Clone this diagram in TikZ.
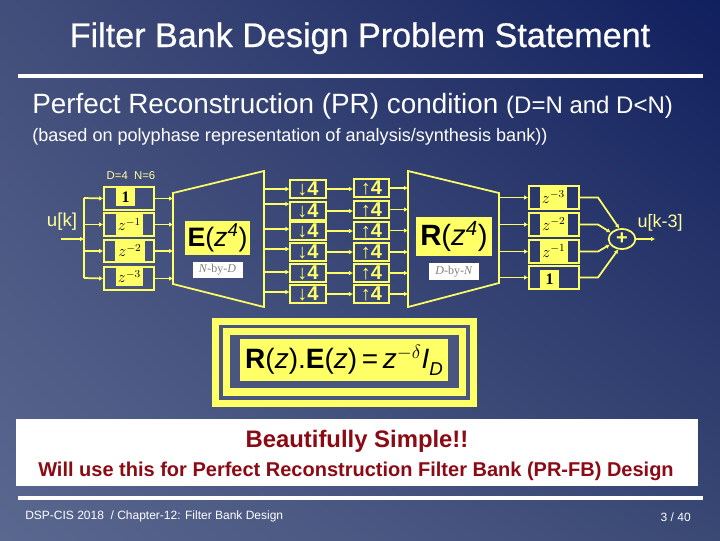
\documentclass[tikz,border=0pt]{standalone}
\usepackage{amsmath}
\usepackage{fontspec}
\setmainfont{Liberation Sans}
\newfontfamily\labelserif{Liberation Serif}
\newfontfamily\titlefont[FakeBold=0.6]{Liberation Sans}
\usepackage{xcolor}
\usetikzlibrary{positioning,arrows.meta,shapes.geometric,calc,shadings}
\definecolor{slideyellow}{HTML}{FFFF66}
\definecolor{paleyellow}{HTML}{FFFF99}
\definecolor{slidered}{HTML}{8B0A14}
\definecolor{ringgap}{HTML}{4A5680}
\definecolor{bglowleft}{HTML}{5A6890}
\definecolor{bgupleft}{HTML}{424E7A}
\definecolor{bglowright}{HTML}{3A4874}
\definecolor{bgupright}{HTML}{101F5E}

\begin{document}
\begin{tikzpicture}[
    x=0.75pt, y=-0.75pt,
    wire/.style={draw=slideyellow, line width=1.3pt},
    arrow/.style={wire, -{Latex[length=3pt,width=3.5pt]}},
    delaybox/.style={rectangle, draw=slideyellow, line width=1.3pt, minimum width=37.5pt, minimum height=17pt, inner sep=0pt},
    delayfill/.style={rectangle, fill=slideyellow, inner sep=0pt, minimum height=15pt, font=\labelserif\fontsize{12}{12}\selectfont},
    ratebox/.style={rectangle, draw=slideyellow, line width=1.3pt, minimum width=26.5pt, minimum height=13pt, inner sep=0pt, text=slideyellow, font=\bfseries\fontsize{15}{15}\selectfont},
    matbox/.style={rectangle, fill=slideyellow, inner sep=0pt, text=black, font=\fontsize{20}{20}\selectfont},
    sizebox/.style={rectangle, fill=white, inner sep=0pt, text=gray, font=\labelserif\fontsize{9}{9}\selectfont},
    heading/.style={anchor=base west, text=white, inner sep=0pt}
]

% Background
\useasboundingbox (0,0) rectangle (720,540);
\shade[lower left=bglowleft, upper left=bgupleft, lower right=bglowright, upper right=bgupright, shading=bilinear interpolation] (0,0) rectangle (720,540);

% Title
\node[text=white, anchor=base, inner sep=0pt, font=\titlefont\fontsize{25.6}{25.6}\selectfont] (title) at (360,47) {Filter Bank Design Problem Statement};
\fill[white] (18,74) rectangle (703,78);

% Headings
\node[heading, font=\fontsize{20.9}{20.9}\selectfont] (cond) at (32,113) {Perfect Reconstruction (PR) condition {\fontsize{18}{18}\selectfont (D=N and D<N)}};
\node[heading, font=\fontsize{13.55}{13.55}\selectfont] (based) at (32,141) {(based on polyphase representation of analysis/synthesis bank))};

% Labels of the analysis side
\node[text=paleyellow, font=\fontsize{8.5}{8.5}\selectfont] (sizes) at (131,176) {D=4\ \ N=6};
\node[text=paleyellow, font=\fontsize{14}{14}\selectfont] (input) at (62,222) {u[k]};

% Input delays
\node[delayfill, minimum width=14pt, minimum height=13pt] (af1) at (125.5,197) {\textbf{1}};
\node[delayfill, minimum width=20pt, minimum height=16pt] (af2) at (129.5,224.5) {$z^{-1}$};
\node[delayfill, minimum width=22pt, minimum height=16pt] (af3) at (130,250.5) {$z^{-2}$};
\node[delayfill, minimum width=20pt, minimum height=14.5pt] (af4) at (129.5,276.5) {$z^{-3}$};
\node[delaybox] (ad1) at (129,198.5) {};
\node[delaybox] (ad2) at (129,224.5) {};
\node[delaybox] (ad3) at (129,251) {};
\node[delaybox] (ad4) at (129,278.5) {};

% Input bus
\coordinate (instart) at (61,239);
\coordinate (bustop) at (84,198);
\coordinate (busbot) at (84,278);
\draw[wire] (bustop) -- (busbot);
\draw[arrow] (instart) -- (instart -| bustop);
\draw[arrow] (bustop) -- (ad1.west);
\draw[arrow] (ad2.west -| bustop) -- (ad2.west);
\draw[arrow] (ad3.west -| bustop) -- (ad3.west);
\draw[arrow] (busbot) -- (ad4.west);

% E block
\coordinate (etl) at (173,193);
\coordinate (etr) at (264,171);
\coordinate (ebr) at (264,307);
\coordinate (ebl) at (173,284);
\draw[wire, line join=miter] (etl) -- (etr) -- (ebr) -- (ebl) -- cycle;
\draw[arrow] (ad1.east) -- (ad1.east -| etl);
\draw[arrow] (ad2.east) -- (ad2.east -| etl);
\draw[arrow] (ad3.east) -- (ad3.east -| etl);
\draw[arrow] (ad4.east) -- (ad4.east -| etl);
\node[matbox, minimum width=49pt, minimum height=25.5pt] (emat) at (217.5,238) {\textbf{E}(\textit{z}$^{\text{\itshape 4}}$)};
\node[sizebox, minimum width=37.5pt, minimum height=12.5pt, below=4.5pt of emat] (esize) {\textit{N}-by-\textit{D}};

% Down-samplers
\node[ratebox] (dn1) at (308,189) {↓4};
\node[ratebox] (dn2) at (308,211) {↓4};
\node[ratebox] (dn3) at (308,231) {↓4};
\node[ratebox] (dn4) at (308,252) {↓4};
\node[ratebox] (dn5) at (308,273) {↓4};
\node[ratebox] (dn6) at (308,294) {↓4};
\coordinate (eo1) at (264,189);
\coordinate (eo2) at (264,204);
\coordinate (eo3) at (264,229);
\coordinate (eo4) at (264,249);
\coordinate (eo5) at (264,272);
\coordinate (eo6) at (264,292);
\draw[arrow] (eo1) -- (eo1 -| dn1.west);
\draw[arrow] (eo2) -- (eo2 -| dn2.west);
\draw[arrow] (eo3) -- (eo3 -| dn3.west);
\draw[arrow] (eo4) -- (eo4 -| dn4.west);
\draw[arrow] (eo5) -- (eo5 -| dn5.west);
\draw[arrow] (eo6) -- (eo6 -| dn6.west);

% Up-samplers
\node[ratebox] (up1) at (371.5,188) {↑4};
\node[ratebox] (up2) at (371.5,209.5) {↑4};
\node[ratebox] (up3) at (371.5,230.5) {↑4};
\node[ratebox] (up4) at (371.5,252) {↑4};
\node[ratebox] (up5) at (371.5,273) {↑4};
\node[ratebox] (up6) at (371.5,294) {↑4};
\draw[arrow] (dn1.east) -- (dn1.east -| up1.west);
\draw[arrow] (dn2.east) -- (dn2.east -| up2.west);
\draw[arrow] (dn3.east) -- (dn3.east -| up3.west);
\draw[arrow] (dn4.east) -- (dn4.east -| up4.west);
\draw[arrow] (dn5.east) -- (dn5.east -| up5.west);
\draw[arrow] (dn6.east) -- (dn6.east -| up6.west);

% R block
\coordinate (rtl) at (408,171);
\coordinate (rtr) at (499,193);
\coordinate (rbr) at (499,283);
\coordinate (rbl) at (408,307);
\draw[wire, line join=miter] (rtl) -- (rtr) -- (rbr) -- (rbl) -- cycle;
\draw[arrow] (up1.east) -- (up1.east -| rtl);
\draw[arrow] (up2.east) -- (up2.east -| rtl);
\draw[arrow] (up3.east) -- (up3.east -| rtl);
\draw[arrow] (up4.east) -- (up4.east -| rtl);
\draw[arrow] (up5.east) -- (up5.east -| rtl);
\draw[arrow] (up6.east) -- (up6.east -| rtl);
\node[matbox, minimum width=57pt, minimum height=29pt, font=\fontsize{22}{22}\selectfont] (rmat) at (454,236.5) {\textbf{R}(\textit{z}$^{\text{\itshape 4}}$)};
\node[sizebox, minimum width=38pt, minimum height=13pt, below=5pt of rmat] (rsize) {\textit{D}-by-\textit{N}};

% Output delays
\node[delayfill, minimum width=20pt, minimum height=16pt] (sf1) at (553.5,197) {$z^{-3}$};
\node[delayfill, minimum width=21pt, minimum height=16pt] (sf2) at (554,224) {$z^{-2}$};
\node[delayfill, minimum width=21pt, minimum height=16pt] (sf3) at (554,251) {$z^{-1}$};
\node[delayfill, minimum width=14pt, minimum height=14pt] (sf4) at (549.5,279) {\textbf{1}};
\node[delaybox] (sd1) at (554,197.5) {};
\node[delaybox] (sd2) at (554,224.5) {};
\node[delaybox] (sd3) at (554,251.5) {};
\node[delaybox] (sd4) at (554,277.5) {};
\draw[arrow] (sd1.west -| rtr) -- (sd1.west);
\draw[arrow] (sd2.west -| rtr) -- (sd2.west);
\draw[arrow] (sd3.west -| rtr) -- (sd3.west);
\draw[arrow] (sd4.west -| rtr) -- (sd4.west);

% Adder
\node[ellipse, draw=slideyellow, line width=1.3pt, minimum width=20pt, minimum height=15pt, inner sep=0pt, text=slideyellow, font=\bfseries\fontsize{15}{15}\selectfont] (sum) at (622,239) {+};
\coordinate (knee) at (598,239);
\draw[arrow] (sd1.east) -- (sd1.east -| knee) -- (sum.105);
\draw[arrow] (sd2.east) -- (sd2.east -| knee) -- (sum.150);
\draw[arrow] (sd3.east) -- (sd3.east -| knee) -- (sum.205);
\draw[arrow] (sd4.east) -- (sd4.east -| knee) -- (sum.250);
\coordinate (outend) at (655,239);
\draw[arrow] (sum.east) -- (outend);
\node[text=paleyellow, font=\fontsize{13.5}{13.5}\selectfont] (output) at (660,223) {u[k-3]};

% Condition box
\fill[slideyellow] (212,318) rectangle (477,407);
\fill[ringgap] (219,325) rectangle (470,400);
\fill[slideyellow] (223,328) rectangle (466,396);
\fill[ringgap] (230,335) rectangle (459,388);
\node[matbox, minimum width=156pt, minimum height=31.5pt] (prcond) at (344,360) {\fontsize{21}{21}\selectfont\textbf{R}(\textit{z}).\textbf{E}(\textit{z})\,=\,\textit{z}$^{-\delta}$\textit{I}\raisebox{-0.25em}{\smash{\fontsize{14}{14}\selectfont\textit{D}}}};

% Conclusion
\node[rectangle, fill=white, inner sep=0pt, minimum width=511.5pt, minimum height=50pt, anchor=north west] (note) at (16,419) {};
\node[text=slidered, font=\bfseries\fontsize{17.9}{17.9}\selectfont] (simple) at (357,441) {Beautifully Simple!!};
\node[text=slidered, font=\bfseries\fontsize{15}{15}\selectfont] (willuse) at (356,471) {Will use this for Perfect Reconstruction Filter Bank (PR-FB) Design};

% Footer
\fill[white] (18,496) rectangle (703,500);
\node[anchor=west, inner sep=0pt, text=white, font=\fontsize{9}{9}\selectfont] (course) at (25,516) {DSP-CIS 2018\ \ / Chapter-12: Filter Bank Design};
\node[anchor=east, inner sep=0pt, text=white, font=\fontsize{9}{9}\selectfont] (page) at (691,517) {3 / 40};

\end{tikzpicture}
\end{document}
